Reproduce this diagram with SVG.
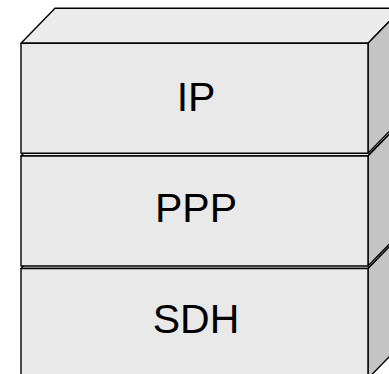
<svg xmlns="http://www.w3.org/2000/svg" xmlns:xlink="http://www.w3.org/1999/xlink" width="389" height="374" viewBox="0 0 389 374">
  <style>
    .front { fill: #e9e9e9; stroke: #000; stroke-width: 1.4; stroke-linejoin: round; }
    .top { fill: #ececec; stroke: #000; stroke-width: 1.4; stroke-linejoin: round; }
    .side { fill: #c4c4c4; stroke: #000; stroke-width: 1.4; stroke-linejoin: round; }
    .label { font-family: "Liberation Sans", Arial, sans-serif; font-size: 41px; fill: #000; text-anchor: middle; }
  </style>
  <defs>
    <g id="cube">
      <polygon class="top" points="0,35 34,0 381,0 347,35"/>
      <polygon class="side" points="347,35 381,0 381,110 347,145"/>
      <rect class="front" x="0" y="35" width="347" height="110"/>
    </g>
  </defs>
  <rect width="389" height="374" fill="#ffffff"/>
  <g id="node-sdh">
    <use xlink:href="#cube" href="#cube" transform="translate(21,233.5)"/>
    <text class="label" x="196" y="333">SDH</text>
  </g>
  <g id="node-ppp">
    <use xlink:href="#cube" href="#cube" transform="translate(21,121)"/>
    <text class="label" x="196" y="221.7">PPP</text>
  </g>
  <g id="node-ip">
    <use xlink:href="#cube" href="#cube" transform="translate(21,8.3)"/>
    <text class="label" x="196" y="110.5">IP</text>
  </g>
  <g id="connectors"/>
</svg>
